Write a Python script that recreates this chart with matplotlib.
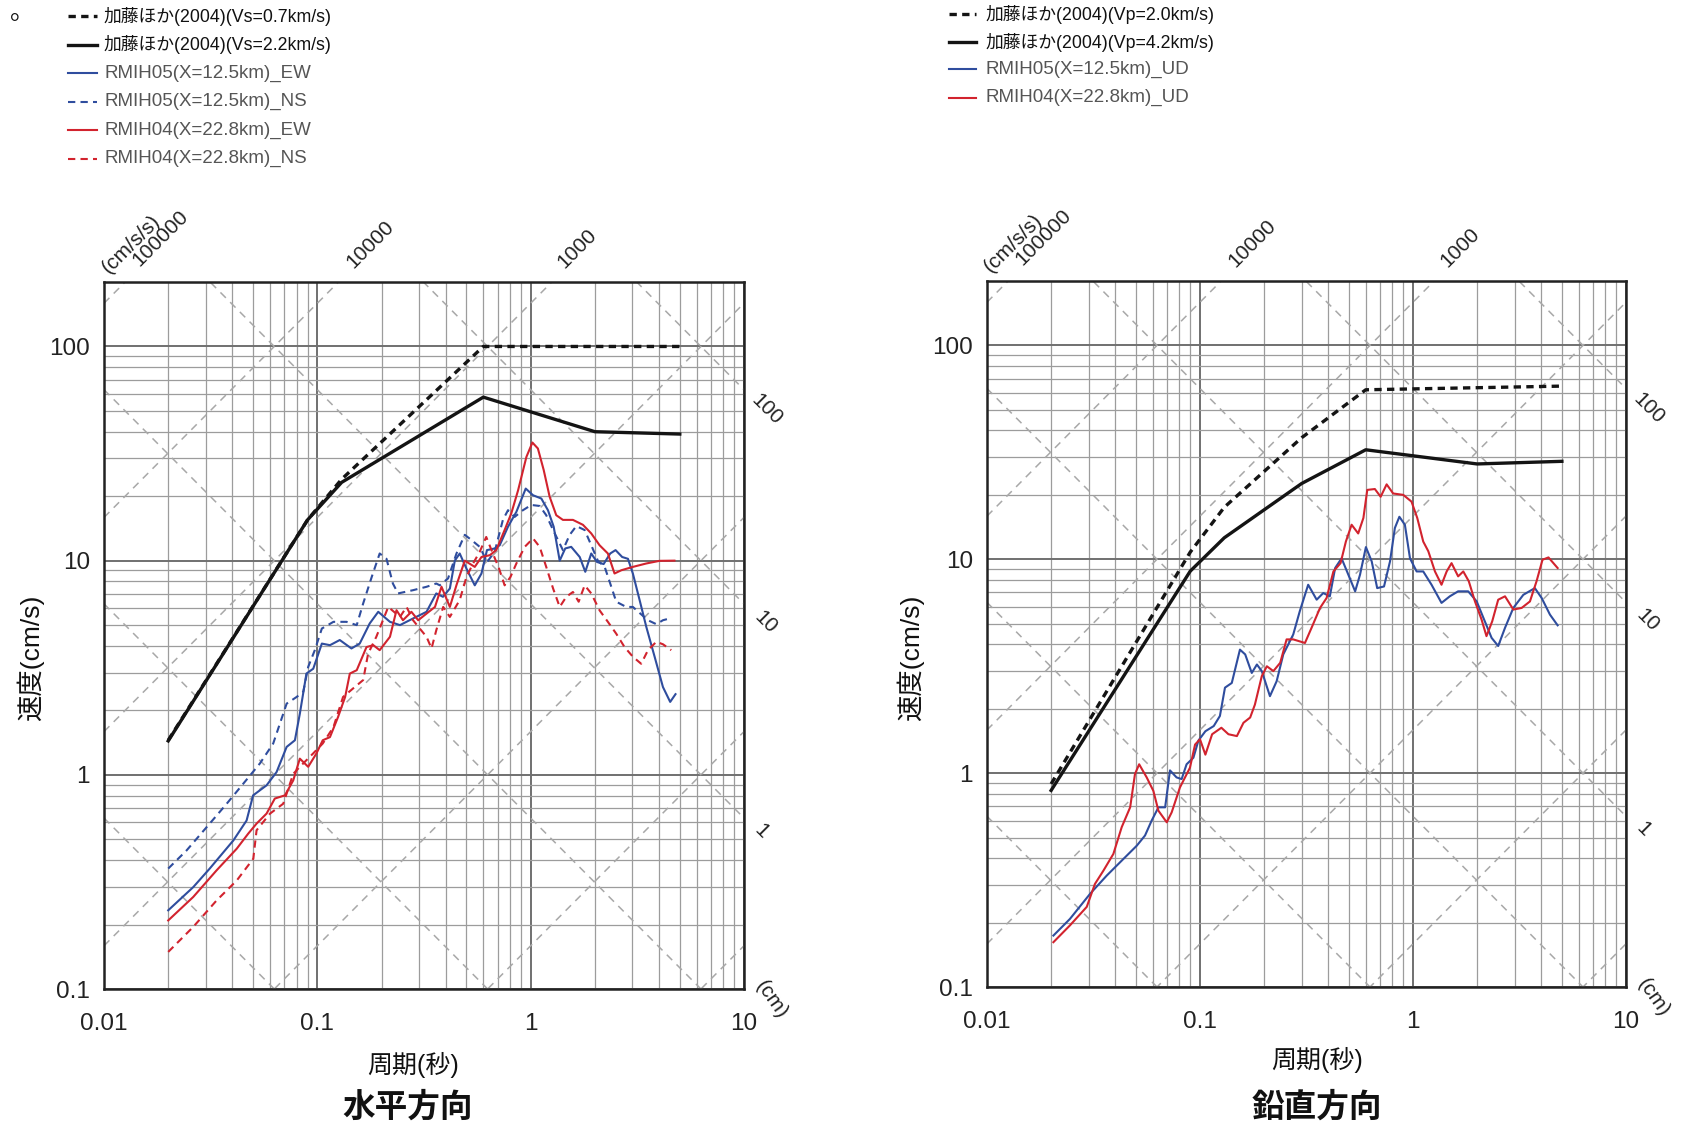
import numpy as np
import matplotlib
matplotlib.use("Agg")
import matplotlib.pyplot as plt
from matplotlib.ticker import FixedLocator, FixedFormatter, LogLocator, NullFormatter
from matplotlib.lines import Line2D

plt.rcParams['font.family'] = ['Liberation Sans', 'Noto Sans CJK JP']

# ---------------- data ----------------
x_ticks = [0.01, 0.1, 1, 10]
x_tick_labels = ["0.01", "0.1", "1", "10"]
y_ticks = [0.1, 1, 10, 100]
y_tick_labels = ["0.1", "1", "10", "100"]

accel_levels = [0.1, 1, 10, 100, 1000, 10000, 100000, 1000000]    # cm/s/s
disp_levels = [0.0001, 0.001, 0.01, 0.1, 1, 10, 100, 1000]         # cm
accel_labels = {100000: "100000", 10000: "10000", 1000: "1000"}
disp_labels = {100: "100", 10: "10", 1: "1"}

# Horizontal: Kato et al. (2004)
h_kato07_T = [0.02, 0.09, 0.13, 0.6, 5.0]
h_kato07_sv = [1.45, 15.5, 24.0, 100, 100]
h_kato22_T = [0.02, 0.09, 0.13, 0.6, 2.0, 5.0]
h_kato22_sv = [1.44, 15.5, 23.2, 58, 40, 39]

# RMIH05 EW
h05ew_T = [0.020, 0.0262, 0.0313, 0.0404, 0.0466, 0.050, 0.0578, 0.0644, 0.0718, 0.0785,
           0.0828, 0.0889, 0.0957, 0.105, 0.1146, 0.1274, 0.1445, 0.158, 0.176, 0.193,
           0.219, 0.244, 0.281, 0.325, 0.361, 0.388, 0.418, 0.441, 0.465, 0.500,
           0.547, 0.588, 0.624, 0.678, 0.716, 0.783, 0.857, 0.948, 1.026, 1.122,
           1.205, 1.282, 1.368, 1.452, 1.549, 1.698, 1.803, 1.923, 2.046, 2.198,
           2.360, 2.500, 2.685, 2.858, 3.013, 3.243, 3.483, 3.811, 4.169, 4.508, 4.775]
h05ew_sv = [0.233, 0.299, 0.365, 0.494, 0.612, 0.802, 0.893, 1.03, 1.35, 1.45,
            1.93, 2.97, 3.13, 4.10, 4.03, 4.26, 3.89, 4.10, 5.09, 5.77,
            5.18, 5.00, 5.37, 5.77, 7.03, 6.78, 7.41, 10.0, 10.8, 9.18,
            7.67, 8.71, 11.2, 11.4, 11.8, 14.4, 16.9, 21.7, 20.2, 19.5,
            17.2, 14.4, 10.0, 11.4, 11.6, 10.4, 8.87, 10.8, 9.86, 9.64,
            10.8, 11.2, 10.4, 10.2, 8.71, 6.53, 4.91, 3.56, 2.57, 2.19, 2.38]

# RMIH05 NS
h05ns_T = [0.020, 0.0244, 0.0313, 0.0376, 0.0450, 0.0538, 0.0621, 0.0718, 0.0800, 0.0859,
           0.0906, 0.0973, 0.105, 0.119, 0.137, 0.153, 0.164, 0.180, 0.196, 0.211,
           0.226, 0.239, 0.281, 0.325, 0.361, 0.375, 0.410, 0.449, 0.491, 0.527,
           0.577, 0.625, 0.678, 0.741, 0.783, 0.841, 0.920, 1.007, 1.102, 1.183,
           1.274, 1.416, 1.524, 1.637, 1.791, 1.923, 2.065, 2.223, 2.360, 2.518,
           2.805, 3.013, 3.266, 3.548, 3.882, 4.169, 4.477]
h05ns_sv = [0.365, 0.444, 0.592, 0.733, 0.910, 1.13, 1.40, 2.15, 2.31, 2.44,
            3.19, 3.82, 4.82, 5.18, 5.18, 5.00, 6.31, 8.41, 10.8, 10.2,
            7.82, 7.03, 7.28, 7.55, 7.82, 7.67, 8.26, 10.8, 13.2, 12.5,
            11.6, 9.86, 11.0, 15.5, 17.2, 16.0, 17.2, 18.2, 18.0, 16.3,
            13.9, 11.2, 13.2, 14.5, 13.9, 11.8, 10.0, 9.35, 7.82, 6.43,
            6.08, 6.08, 5.66, 5.27, 5.05, 5.27, 5.37]

# RMIH04 EW
h04ew_T = [0.020, 0.0262, 0.0337, 0.0419, 0.0474, 0.0519, 0.0578, 0.0632, 0.0705, 0.0771,
           0.0828, 0.0906, 0.0991, 0.106, 0.1146, 0.125, 0.135, 0.142, 0.153, 0.170,
           0.183, 0.196, 0.219, 0.235, 0.252, 0.276, 0.297, 0.325, 0.356, 0.382,
           0.418, 0.449, 0.491, 0.547, 0.588, 0.643, 0.690, 0.755, 0.811, 0.873,
           0.955, 1.019, 1.081, 1.151, 1.227, 1.318, 1.416, 1.578, 1.758, 1.923,
           2.104, 2.301, 2.472, 2.661, 3.013, 3.483, 4.018, 4.721]
h04ew_sv = [0.209, 0.269, 0.358, 0.452, 0.531, 0.592, 0.659, 0.775, 0.802, 0.942,
            1.19, 1.09, 1.26, 1.45, 1.50, 1.86, 2.31, 2.97, 3.08, 3.95,
            4.03, 3.82, 4.41, 5.87, 5.27, 5.77, 5.27, 5.66, 6.08, 7.55,
            6.08, 7.69, 10.0, 9.35, 10.4, 10.6, 11.2, 13.9, 16.6, 21.3,
            30.5, 35.6, 33.4, 26.5, 19.9, 16.3, 15.5, 15.5, 14.7, 13.4,
            11.8, 10.8, 8.71, 9.02, 9.35, 9.70, 9.98, 10.0]

# RMIH04 NS
h04ns_T = [0.020, 0.0262, 0.0337, 0.0419, 0.0501, 0.0519, 0.0600, 0.0692, 0.0771, 0.0828,
           0.0957, 0.106, 0.119, 0.132, 0.147, 0.164, 0.173, 0.189, 0.215, 0.244,
           0.262, 0.281, 0.302, 0.325, 0.343, 0.361, 0.389, 0.418, 0.465, 0.500,
           0.537, 0.577, 0.619, 0.665, 0.711, 0.755, 0.804, 0.857, 0.938, 1.026,
           1.102, 1.183, 1.274, 1.368, 1.469, 1.578, 1.679, 1.791, 1.923, 2.104,
           2.301, 2.518, 2.754, 3.013, 3.296, 3.548, 3.882, 4.169, 4.560]
h04ns_sv = [0.149, 0.195, 0.259, 0.321, 0.406, 0.551, 0.659, 0.733, 1.01, 1.09,
            1.26, 1.40, 1.67, 2.31, 2.53, 2.77, 3.68, 4.41, 6.08, 5.46,
            6.08, 5.27, 4.82, 4.41, 3.89, 4.73, 6.08, 5.46, 6.55, 8.39,
            9.70, 11.0, 12.9, 10.8, 9.18, 7.67, 8.39, 9.70, 11.6, 12.7,
            11.6, 9.35, 7.41, 6.08, 6.78, 7.14, 6.43, 7.67, 7.03, 5.86,
            5.18, 4.56, 3.95, 3.56, 3.30, 3.82, 4.18, 4.07, 3.82]

# Vertical: Kato et al. (2004)
v_kato20_T = [0.02, 0.09, 0.13, 0.3, 0.6, 5.0]
v_kato20_sv = [0.89, 10.8, 17.5, 37.0, 62.0, 64.5]
v_kato42_T = [0.02, 0.09, 0.13, 0.3, 0.6, 2.0, 5.0]
v_kato42_sv = [0.83, 8.8, 12.6, 22.6, 32.5, 27.9, 28.7]

# RMIH05 UD
v05ud_T = [0.0205, 0.0245, 0.0305, 0.0365, 0.0437, 0.0505, 0.0552, 0.0593, 0.0638, 0.0686,
           0.0723, 0.0776, 0.0820, 0.0865, 0.0931, 0.0983, 0.106, 0.116, 0.124, 0.131,
           0.141, 0.154, 0.163, 0.175, 0.185, 0.195, 0.213, 0.229, 0.246, 0.274,
           0.294, 0.322, 0.353, 0.379, 0.407, 0.431, 0.462, 0.497, 0.535, 0.564,
           0.601, 0.640, 0.679, 0.731, 0.780, 0.822, 0.863, 0.916, 0.968, 1.040,
           1.117, 1.222, 1.361, 1.489, 1.629, 1.816, 1.991, 2.173, 2.339, 2.512,
           2.704, 2.958, 3.296, 3.733, 4.018, 4.395, 4.775]
v05ud_sv = [0.174, 0.208, 0.273, 0.332, 0.397, 0.458, 0.511, 0.600, 0.692, 0.692,
            1.03, 0.955, 0.938, 1.10, 1.18, 1.42, 1.57, 1.66, 1.85, 2.51,
            2.64, 3.78, 3.59, 2.94, 3.22, 3.00, 2.29, 2.69, 3.59, 4.45,
            5.71, 7.60, 6.47, 6.95, 6.71, 9.10, 10.1, 8.47, 7.08, 8.47,
            11.4, 9.77, 7.33, 7.46, 9.77, 14.0, 15.8, 14.5, 10.1, 8.77,
            8.77, 7.60, 6.25, 6.71, 7.08, 7.08, 6.35, 5.13, 4.29, 3.93,
            4.78, 5.92, 6.82, 7.33, 6.59, 5.51, 4.91]

# RMIH04 UD
v04ud_T = [0.0205, 0.0245, 0.0294, 0.0321, 0.0352, 0.0392, 0.0429, 0.0470, 0.0495, 0.0518,
           0.0562, 0.0604, 0.0638, 0.0698, 0.0736, 0.0805, 0.0897, 0.0948, 0.100, 0.106,
           0.114, 0.126, 0.136, 0.149, 0.160, 0.172, 0.181, 0.195, 0.206, 0.221,
           0.238, 0.255, 0.274, 0.311, 0.334, 0.366, 0.393, 0.423, 0.457, 0.484,
           0.515, 0.553, 0.585, 0.610, 0.662, 0.705, 0.752, 0.807, 0.900, 0.984,
           1.047, 1.117, 1.180, 1.268, 1.361, 1.439, 1.517, 1.629, 1.722, 1.828,
           1.954, 2.099, 2.213, 2.355, 2.512, 2.704, 2.958, 3.236, 3.540, 3.802,
           4.055, 4.325, 4.775]
v04ud_sv = [0.162, 0.194, 0.237, 0.303, 0.350, 0.419, 0.559, 0.692, 0.989, 1.10,
            0.955, 0.826, 0.667, 0.589, 0.655, 0.857, 1.06, 1.36, 1.44, 1.22,
            1.52, 1.63, 1.52, 1.49, 1.72, 1.82, 2.09, 2.84, 3.16, 3.00,
            3.28, 4.22, 4.22, 4.06, 4.78, 5.92, 6.59, 8.77, 9.59, 12.1,
            14.5, 13.2, 15.6, 21.1, 21.3, 19.6, 22.4, 20.3, 20.0, 18.6,
            15.6, 12.1, 10.9, 8.77, 7.60, 8.77, 9.59, 8.32, 8.77, 7.89,
            6.35, 5.22, 4.37, 5.13, 6.47, 6.71, 5.82, 5.92, 6.35, 7.89,
            9.95, 10.2, 9.10]

BLUE = '#2f4d9e'
RED = '#d2232e'
BLACK = '#141414'

# ---------------- figure ----------------
W, H = 1682, 1124
fig = plt.figure(figsize=(W / 100, H / 100), dpi=100)
fig.patch.set_facecolor('white')

axL = fig.add_axes([104 / W, (H - 989) / H, 640 / W, 707 / H])
axR = fig.add_axes([987 / W, (H - 987) / H, 639 / W, 706 / H])

DIAG_KW = dict(color='#a8a8a8', lw=1.1, linestyle=(0, (5, 4)), zorder=1.5)


def setup(ax):
    ax.set_xscale('log')
    ax.set_yscale('log')
    ax.set_xlim(0.01, 10)
    ax.set_ylim(0.1, 200)
    ax.xaxis.set_major_locator(FixedLocator(x_ticks))
    ax.xaxis.set_major_formatter(FixedFormatter(x_tick_labels))
    ax.yaxis.set_major_locator(FixedLocator(y_ticks))
    ax.yaxis.set_major_formatter(FixedFormatter(y_tick_labels))
    for axis in (ax.xaxis, ax.yaxis):
        axis.set_minor_locator(LogLocator(base=10, subs=np.arange(2, 10)))
        axis.set_minor_formatter(NullFormatter())
    ax.grid(which='major', color='#707070', lw=1.4, zorder=0)
    ax.grid(which='minor', color='#9c9c9c', lw=0.9, zorder=0)
    ax.set_axisbelow(True)
    ax.tick_params(which='both', length=0, labelsize=17.5, colors='#222222')
    ax.tick_params(axis='x', pad=17)
    ax.tick_params(axis='y', pad=10)
    for s in ax.spines.values():
        s.set_linewidth(1.8)
        s.set_color('#222222')
    # tripartite diagonal lines
    Tends = np.array([0.01, 10.0])
    for A in accel_levels:
        ax.plot(Tends, A * Tends / (2 * np.pi), **DIAG_KW)
    for D in disp_levels:
        ax.plot(Tends, 2 * np.pi * D / Tends, **DIAG_KW)
    ax.set_xlim(0.01, 10)
    ax.set_ylim(0.1, 200)
    # acceleration labels (top)
    top = 200.0
    acc_off = {100000: (25.5, 31.5), 10000: (22.5, 27), 1000: (18.5, 24)}
    for A, lab in accel_labels.items():
        Ttop = top * 2 * np.pi / A
        ax.annotate(lab, xy=(Ttop, top), xytext=acc_off[A], textcoords='offset points',
                    rotation=45, rotation_mode='anchor', ha='center', va='center',
                    fontsize=15, color='#222222', annotation_clip=False)
    ax.annotate("(cm/s/s)", xy=(top * 2 * np.pi / 100000, top), xytext=(4, 27),
                textcoords='offset points', rotation=45, rotation_mode='anchor',
                ha='center', va='center', fontsize=15, color='#222222',
                annotation_clip=False)
    # displacement labels (right)
    dis_off = {100: (16, -14.5), 10: (15.5, -13), 1: (12.5, -9.5)}
    for D, lab in disp_labels.items():
        sv_edge = 2 * np.pi * D / 10.0
        ax.annotate(lab, xy=(10.0, sv_edge), xytext=dis_off[D], textcoords='offset points',
                    rotation=-45, rotation_mode='anchor', ha='center', va='center',
                    fontsize=15, color='#222222', annotation_clip=False)
    ax.annotate("(cm)", xy=(10.0, 0.1), xytext=(20, -8), textcoords='offset points',
                rotation=-55, rotation_mode='anchor', ha='center', va='center',
                fontsize=15, color='#222222', annotation_clip=False)


setup(axL)
setup(axR)

KATO_DASH = (0, (2.2, 1.6))
CDASH = (0, (3.5, 2.5))

# horizontal
lk1, = axL.plot(h_kato07_T, h_kato07_sv, color=BLACK, lw=2.4, linestyle=KATO_DASH, zorder=5)
lk2, = axL.plot(h_kato22_T, h_kato22_sv, color=BLACK, lw=2.4, zorder=5)
l1, = axL.plot(h05ew_T, h05ew_sv, color=BLUE, lw=1.5, zorder=4)
l2, = axL.plot(h05ns_T, h05ns_sv, color=BLUE, lw=1.5, linestyle=CDASH, zorder=4)
l3, = axL.plot(h04ew_T, h04ew_sv, color=RED, lw=1.5, zorder=4)
l4, = axL.plot(h04ns_T, h04ns_sv, color=RED, lw=1.5, linestyle=CDASH, zorder=4)

# vertical
vk1, = axR.plot(v_kato20_T, v_kato20_sv, color=BLACK, lw=2.4, linestyle=KATO_DASH, zorder=5)
vk2, = axR.plot(v_kato42_T, v_kato42_sv, color=BLACK, lw=2.4, zorder=5)
v1, = axR.plot(v05ud_T, v05ud_sv, color=BLUE, lw=1.5, zorder=4)
v2, = axR.plot(v04ud_T, v04ud_sv, color=RED, lw=1.5, zorder=4)

# axis labels and titles
for ax, yx, yy, xx, xy in [(axL, -0.094, 0.468, 0.483, -0.089),
                           (axR, -0.098, 0.466, 0.516, -0.085)]:
    ax.set_ylabel("速度(cm/s)", fontsize=19, color='#111111')
    ax.yaxis.set_label_coords(yx, yy)
    ax.set_xlabel("周期(秒)", fontsize=18, color='#111111')
    ax.xaxis.set_label_coords(xx, xy)

fig.text(408 / W, 1 - 1108 / H, "水平方向", ha='center', va='center', fontsize=23.5,
         fontweight='bold', color='#111111')
fig.text(1317 / W, 1 - 1108 / H, "鉛直方向", ha='center', va='center', fontsize=23.5,
         fontweight='bold', color='#111111')


# legends (drawn in figure pixel space)
def draw_legend(entries, x0, x1, xt, ys):
    for (ls, color, label, tcolor, fs), y in zip(entries, ys):
        lw = 2.4 if color == BLACK else 1.5
        fig.add_artist(Line2D([x0 / W, x1 / W], [1 - y / H, 1 - y / H], color=color,
                              lw=lw, linestyle=ls, transform=fig.transFigure))
        fig.text(xt / W, 1 - y / H, label, ha='left', va='center', fontsize=fs,
                 color=tcolor)


left_entries = [
    (KATO_DASH, BLACK, "加藤ほか(2004)(Vs=0.7km/s)", '#111111', 12.8),
    ('-', BLACK, "加藤ほか(2004)(Vs=2.2km/s)", '#111111', 12.8),
    ('-', BLUE, "RMIH05(X=12.5km)_EW", '#555555', 13.5),
    (CDASH, BLUE, "RMIH05(X=12.5km)_NS", '#555555', 13.5),
    ('-', RED, "RMIH04(X=22.8km)_EW", '#555555', 13.5),
    (CDASH, RED, "RMIH04(X=22.8km)_NS", '#555555', 13.5),
]
right_entries = [
    (KATO_DASH, BLACK, "加藤ほか(2004)(Vp=2.0km/s)", '#111111', 12.8),
    ('-', BLACK, "加藤ほか(2004)(Vp=4.2km/s)", '#111111', 12.8),
    ('-', BLUE, "RMIH05(X=12.5km)_UD", '#555555', 13.5),
    ('-', RED, "RMIH04(X=22.8km)_UD", '#555555', 13.5),
]
draw_legend(left_entries, 68, 97, 104, [16, 44.5, 73, 101.5, 130, 158.5])
draw_legend(right_entries, 949, 976, 985, [14, 42, 69, 97.5])

fig.text(10 / W, 1 - 12 / H, "。", ha='left', va='center', fontsize=18, color='#111111')

fig.savefig("out.png", dpi=100, facecolor='white')
